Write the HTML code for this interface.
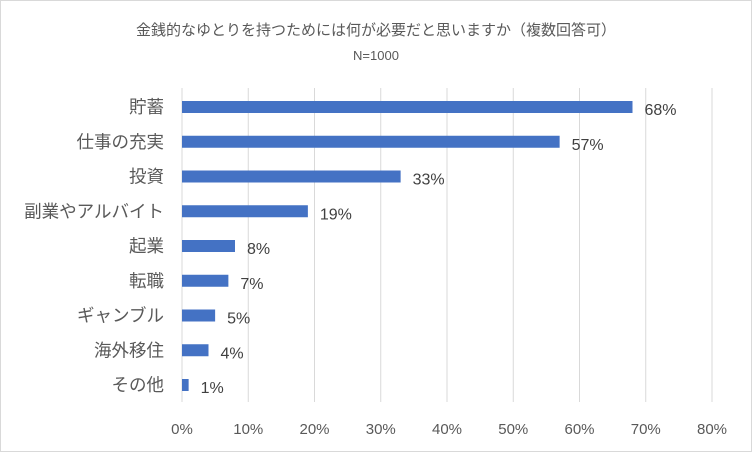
<!DOCTYPE html>
<html><head><meta charset="utf-8"><style>
body{margin:0;background:#fff;}
svg text{font-family:"Liberation Sans","Noto Sans CJK JP",sans-serif;}
</style></head><body>
<svg width="752" height="452" xmlns="http://www.w3.org/2000/svg">
<rect x="0.5" y="0.5" width="751" height="451" fill="#fff" stroke="#d9d9d9"/>
<text x="376" y="35" text-anchor="middle" font-size="15" fill="#595959">金銭的なゆとりを持つためには何が必要だと思いますか（複数回答可）</text>
<text x="376" y="60" text-anchor="middle" font-size="13" fill="#595959">N=1000</text>
<g id="grid"></g><g id="bars"></g>
</svg>
<script>
const categories=["貯蓄","仕事の充実","投資","副業やアルバイト","起業","転職","ギャンブル","海外移住","その他"];
const values=[68,57,33,19,8,7,5,4,1];
const ticks=[0,10,20,30,40,50,60,70,80];
const ns="http://www.w3.org/2000/svg";
const x=v=>182+v*6.625;
const y=i=>107+i*34.75;
const grid=document.getElementById('grid'),bars=document.getElementById('bars');
function mk(t,a,p){const e=document.createElementNS(ns,t);for(const k in a)e.setAttribute(k,a[k]);p.appendChild(e);return e;}
ticks.forEach(t=>{
 const l=mk('line',{x1:x(t),x2:x(t),y1:88,y2:402,stroke:'#d9d9d9'},grid);
 
 
 const tx=mk('text',{x:x(t),y:434,'text-anchor':'middle','font-size':15,fill:'#595959'},grid);
 tx.textContent=t+'%';
 
 
});
categories.forEach((c,i)=>{
 const lb=mk('text',{x:164,y:y(i)+6,'text-anchor':'end','font-size':17.5,fill:'#595959'},bars);
 lb.textContent=c;
 
 
 const r=mk('rect',{x:x(0),y:y(i)-6,width:x(values[i])-x(0),height:12,fill:'#4472c4'},bars);
 
 
 const v=mk('text',{x:x(values[i])+12,y:y(i)+8,'font-size':16,fill:'#404040'},bars);
 v.textContent=values[i]+'%';
 
 
});
</script>
</body></html>
